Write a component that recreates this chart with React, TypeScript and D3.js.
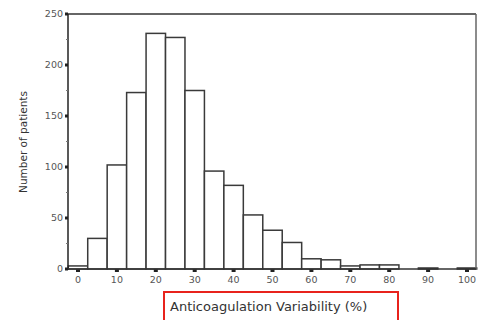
import React from "react";
import * as d3 from "d3";

const binCenters = [0, 5, 10, 15, 20, 25, 30, 35, 40, 45, 50, 55, 60, 65, 70, 75, 80, 85, 90, 95, 100];
const patientCounts = [3, 30, 102, 173, 231, 227, 175, 96, 82, 53, 38, 26, 10, 9, 3, 4, 4, 0, 1, 0, 1];
const xTicks = [0, 10, 20, 30, 40, 50, 60, 70, 80, 90, 100];
const yTicks = [0, 50, 100, 150, 200, 250];
const yMinorTicks = [25, 75, 125, 175, 225];
const binWidth = 5;

export default function App() {
  const W = 486, H = 320;
  const left = 68, right = 476, top = 14, bottom = 269;
  const x = d3.scaleLinear().domain([0, 100]).range([78, 467]);
  const y = d3.scaleLinear().domain([0, 250]).range([bottom, top]);
  const stroke = "#3a3a3a";
  const font = "DejaVu Sans, Verdana, sans-serif";

  return (
    <svg width={W} height={H} style={{ position: "absolute", left: 0, top: 0 }}>
      <rect width={W} height={H} fill="#fff" />
      {binCenters.map((c, i) =>
        patientCounts[i] > 0 ? (
          <rect
            key={c}
            x={x(c - binWidth / 2)}
            y={y(patientCounts[i])}
            width={x(c + binWidth / 2) - x(c - binWidth / 2)}
            height={bottom - y(patientCounts[i])}
            fill="#fff"
            stroke={stroke}
            strokeWidth={1.5}
          />
        ) : null
      )}
      {/* frame */}
      <line x1={left} y1={top} x2={right} y2={top} stroke="#333" strokeWidth={1.5} />
      <line x1={right} y1={top} x2={right} y2={bottom} stroke="#666" strokeWidth={1.5} />
      <line x1={left} y1={top} x2={left} y2={bottom + 1} stroke="#222" strokeWidth={1.5} />
      <line x1={left - 2} y1={bottom} x2={right} y2={bottom} stroke="#333" strokeWidth={1.5} />
      {/* y ticks */}
      {yTicks.map((t) => (
        <g key={t}>
          <rect x={left - 3} y={y(t) - 1.5} width={3} height={3} fill="#222" />
          <text
            x={left - 5}
            y={y(t)}
            dy="0.35em"
            textAnchor="end"
            fontFamily={font}
            fontSize={9.5}
            fill="#555"
          >
            {t}
          </text>
        </g>
      ))}
      {yMinorTicks.map((t) => (
        <line key={t} x1={left - 2} y1={y(t)} x2={left} y2={y(t)} stroke="#777" strokeWidth={1} />
      ))}
      {/* x ticks */}
      {xTicks.map((t) => (
        <g key={t}>
          <rect x={x(t) - 2} y={bottom + 0.5} width={4} height={2.5} fill="#222" />
          <text
            x={x(t)}
            y={bottom + 14}
            textAnchor="middle"
            fontFamily={font}
            fontSize={9.5}
            fill="#555"
          >
            {t}
          </text>
        </g>
      ))}
      <text
        transform={`translate(27,142) rotate(-90)`}
        textAnchor="middle"
        fontFamily={font}
        fontSize={10.5}
        fill="#333"
      >
        Number of patients
      </text>
      <rect x={164} y={292} width={234} height={34} fill="none" stroke="#e8231c" strokeWidth={2} />
      <text x={170} y={311} fontFamily={font} fontSize={13} fill="#333">
        Anticoagulation Variability (%)
      </text>
    </svg>
  );
}
